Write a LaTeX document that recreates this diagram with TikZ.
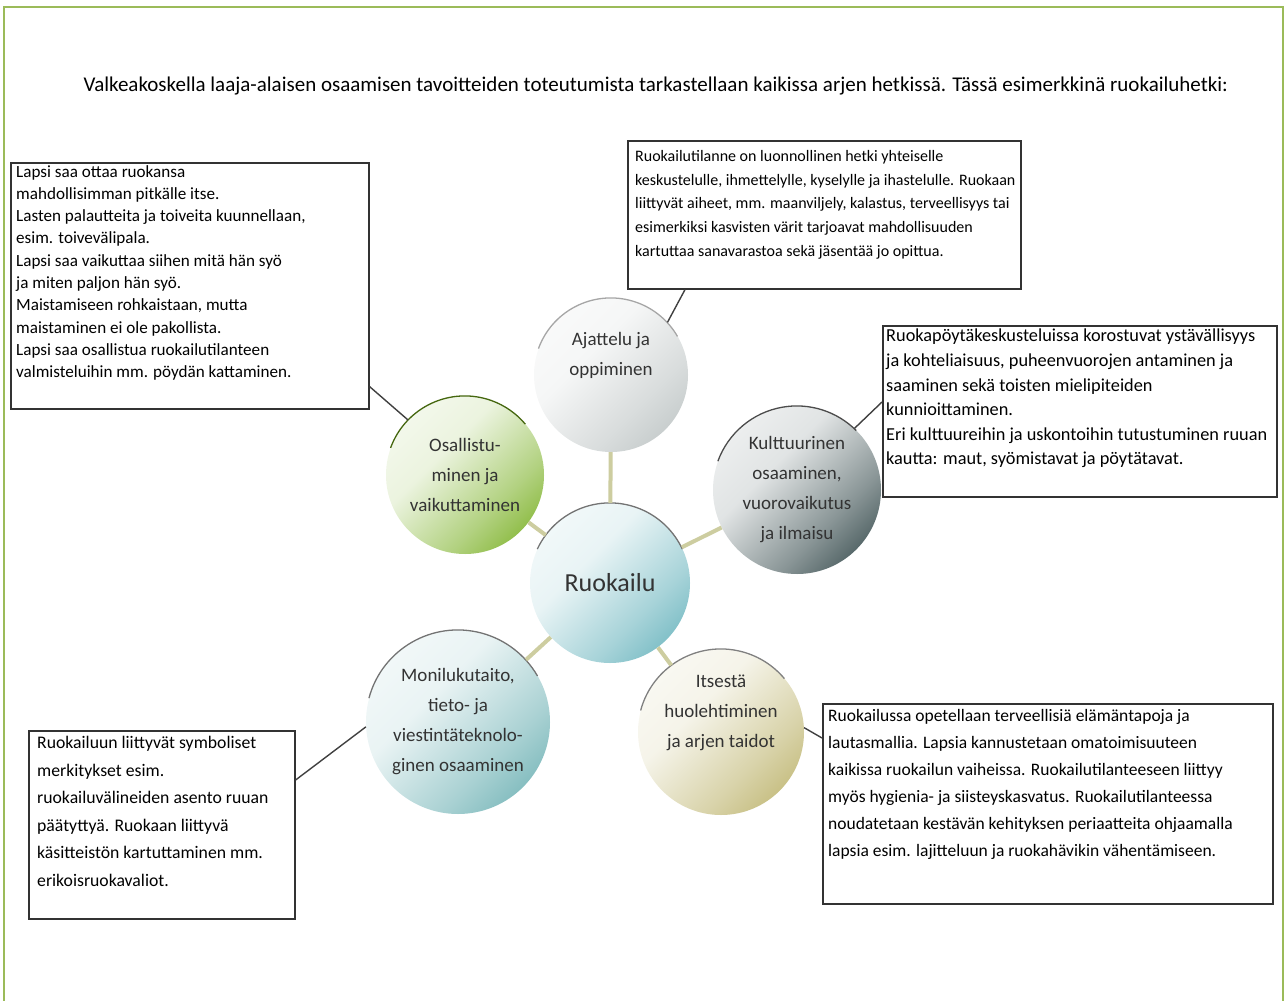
\documentclass[tikz,border=0pt]{standalone}
\usepackage{fontspec}
\setmainfont{Carlito}
\usepackage{tikz}
\usetikzlibrary{positioning, calc}
\definecolor{framegreen}{RGB}{155,187,89}
\definecolor{spokecolor}{RGB}{205,205,160}
\definecolor{hubteal}{RGB}{95,175,185}
\definecolor{thinkgray}{RGB}{185,192,192}
\definecolor{partgreen}{RGB}{115,172,25}
\definecolor{cultslate}{RGB}{40,62,64}
\definecolor{multiteal}{RGB}{100,172,175}
\definecolor{selfkhaki}{RGB}{185,175,100}
\colorlet{tintcolor}{white}
\pgfdeclareverticalshading[tintcolor]{tintfade}{100bp}{color(0bp)=(tintcolor); color(14bp)=(tintcolor); color(36bp)=(tintcolor!55!white); color(60bp)=(tintcolor!14!white); color(86bp)=(tintcolor!5!white); color(100bp)=(white)}

\begin{document}
\begin{tikzpicture}[x=1pt, y=1pt,
    ball/.style={circle, minimum size=#1, inner sep=0pt, align=center, text=black!80,
        font=\fontsize{19}{30}\selectfont},
    tint/.style={/utils/exec={\colorlet{tintcolor}{#1}}, shading=tintfade, shading angle=45},
    rim/.style={line width=1.3pt, #1},
    spoke/.style={spokecolor, line width=4pt},
    box/.style={draw=black!80, line width=1.6pt, inner sep=0pt, anchor=north west},
    note/.style={align=left, inner sep=0pt, text=black},
    callout/.style={black!75, line width=1.4pt},
]
    \useasboundingbox (0,0) rectangle (1288,-1001);
    \draw[framegreen, line width=2pt] (4,-1001) -- (4,-7) -- (1283,-7) -- (1283,-1001);

    \node[anchor=west, font=\fontsize{21}{24}\selectfont] (title) at (80,-86)
        {Valkeakoskella laaja-alaisen osaamisen tavoitteiden toteutumista tarkastellaan kaikissa arjen hetkissä. Tässä esimerkkinä ruokailuhetki:};

    % circles
    \node[ball=160, tint=hubteal, font=\fontsize{26}{30}\selectfont] (ruok) at (610,-583) {Ruokailu};
    \node[ball=154, tint=thinkgray] (ajat) at (611,-375) {Ajattelu ja\\oppiminen\\[12pt]};
    \node[ball=158, tint=partgreen] (osal) at (465,-475) {Osallistu-\\minen ja\\vaikuttaminen};
    \node[ball=168, tint=cultslate] (kult) at (797,-490) {Kulttuurinen\\osaaminen,\\vuorovaikutus\\ja ilmaisu};
    \node[ball=184, tint=multiteal] (moni) at (458,-722) {Monilukutaito,\\tieto- ja\\viestintäteknolo-\\ginen osaaminen};
    \node[ball=166, tint=selfkhaki] (itse) at (721,-732) {Itsestä\\huolehtiminen\\ja arjen taidot\\[12pt]};

    \draw[rim=black!55] (ruok.155) arc[start angle=155, end angle=25, radius=80];
    \draw[rim=black!35] (ajat.160) arc[start angle=160, end angle=30, radius=77];
    \draw[rim=partgreen!60!black] (osal.160) arc[start angle=160, end angle=40, radius=79];
    \draw[rim=black!70] (kult.160) arc[start angle=160, end angle=45, radius=84];
    \draw[rim=black!55] (moni.165) arc[start angle=165, end angle=30, radius=92];
    \draw[rim=black!50] (itse.165) arc[start angle=165, end angle=40, radius=83];

    \foreach \n in {ajat, osal, kult, moni, itse}
        \draw[spoke] (ruok) -- (\n);

    % text boxes
    \node[box, minimum width=358, minimum height=246] (lapsi) at (10,-162) {};
    \node[note, font=\fontsize{17.1}{22.3}\selectfont, below right=3pt and 6pt of lapsi.north west] (lapsitxt)
        {Lapsi saa ottaa ruokansa\\
         mahdollisimman pitkälle itse.\\
         Lasten palautteita ja toiveita kuunnellaan,\\
         esim. toivevälipala.\\
         Lapsi saa vaikuttaa siihen mitä hän syö\\
         ja miten paljon hän syö.\\
         Maistamiseen rohkaistaan, mutta\\
         maistaminen ei ole pakollista.\\
         Lapsi saa osallistua ruokailutilanteen\\
         valmisteluihin mm. pöydän kattaminen.};

    \node[box, minimum width=393, minimum height=148] (keskus) at (627,-140) {};
    \node[note, font=\fontsize{16}{23.7}\selectfont, below right=10pt and 8pt of keskus.north west] (keskustxt)
        {Ruokailutilanne on luonnollinen hetki yhteiselle\\
         keskustelulle, ihmettelylle, kyselylle ja ihastelulle. Ruokaan\\
         liittyvät aiheet, mm. maanviljely, kalastus, terveellisyys tai\\
         esimerkiksi kasvisten värit tarjoavat mahdollisuuden\\
         kartuttaa sanavarastoa sekä jäsentää jo opittua.};

    \node[box, minimum width=394, minimum height=171] (tavat) at (882,-325) {};
    \node[note, font=\fontsize{18.3}{24.6}\selectfont, below right=4pt and 4pt of tavat.north west] (tavattxt)
        {Ruokapöytäkeskusteluissa korostuvat ystävällisyys\\
         ja kohteliaisuus, puheenvuorojen antaminen ja\\
         saaminen sekä toisten mielipiteiden\\
         kunnioittaminen.\\
         Eri kulttuureihin ja uskontoihin tutustuminen ruuan\\
         kautta: maut, syömistavat ja pöytätavat.};

    \node[box, minimum width=450, minimum height=200] (terveys) at (822,-703) {};
    \node[note, font=\fontsize{17.5}{27}\selectfont, below right=6pt and 6pt of terveys.north west] (terveystxt)
        {Ruokailussa opetellaan terveellisiä elämäntapoja ja\\
         lautasmallia. Lapsia kannustetaan omatoimisuuteen\\
         kaikissa ruokailun vaiheissa. Ruokailutilanteeseen liittyy\\
         myös hygienia- ja siisteyskasvatus. Ruokailutilanteessa\\
         noudatetaan kestävän kehityksen periaatteita ohjaamalla\\
         lapsia esim. lajitteluun ja ruokahävikin vähentämiseen.};

    \node[box, minimum width=266, minimum height=188] (symbol) at (28,-730) {};
    \node[note, font=\fontsize{17.7}{27.6}\selectfont, below right=6pt and 9pt of symbol.north west] (symboltxt)
        {Ruokailuun liittyvät symboliset\\
         merkitykset esim.\\
         ruokailuvälineiden asento ruuan\\
         päätyttyä. Ruokaan liittyvä\\
         käsitteistön kartuttaminen mm.\\
         erikoisruokavaliot.};

    % callouts
    \draw[callout] ($(lapsi.south east)+(0,23)$) -- (osal.136);
    \draw[callout] ($(keskus.south west)+(58,0)$) -- (ajat.43);
    \draw[callout] ($(tavat.north west)+(0,-77)$) -- (kult.47);
    \draw[callout] ($(terveys.north west)+(0,-35)$) -- (itse.3);
    \draw[callout] ($(symbol.north east)+(0,-50)$) -- (moni.183);
\end{tikzpicture}
\end{document}
